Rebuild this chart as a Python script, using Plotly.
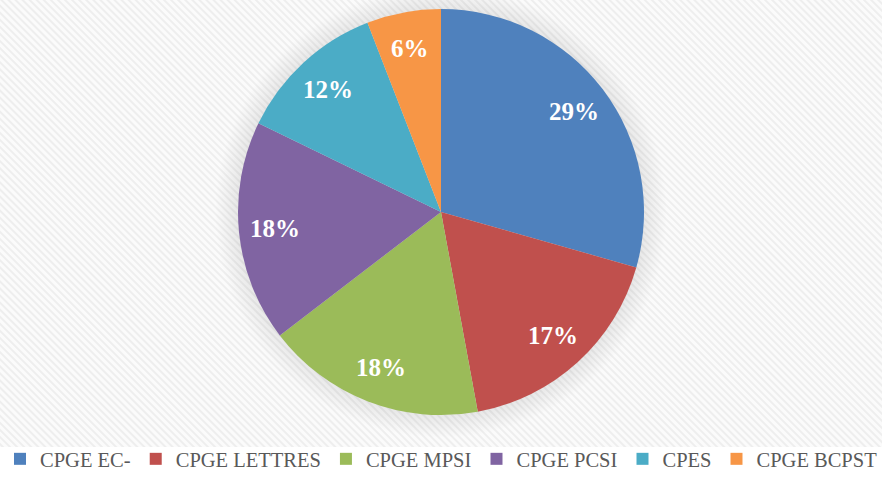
import base64
import math
import plotly.graph_objects as go

categories = ["CPGE EC-", "CPGE LETTRES", "CPGE MPSI", "CPGE PCSI", "CPES", "CPGE BCPST"]
# slice shares (percent)
shares = [29.4, 17.7, 17.5, 17.6, 11.9, 5.9]
# percentages as printed on the slices
pct_labels = ["29%", "17%", "18%", "18%", "12%", "6%"]
colors = ["#4F81BD", "#C0504D", "#9BBB59", "#8064A2", "#4BACC6", "#F79646"]

W, H = 882, 479
stripe_h = 447
cx_px, cy_px, r_px = W / 2, 212, 203
label_r = 0.82

svg = f'''<svg xmlns="http://www.w3.org/2000/svg" width="{W}" height="{stripe_h}">
<defs><pattern id="p" width="5" height="5" patternUnits="userSpaceOnUse" patternTransform="rotate(-45)">
<rect width="5" height="5" fill="#fbfbfb"/><rect width="2" height="5" fill="#eeeeee"/></pattern>
<radialGradient id="g" cx="{cx_px}" cy="{cy_px}" r="226" gradientUnits="userSpaceOnUse">
<stop offset="0.88" stop-color="#000" stop-opacity="0.09"/><stop offset="1" stop-color="#000" stop-opacity="0"/></radialGradient></defs>
<rect width="{W}" height="{stripe_h}" fill="url(#p)"/>
<circle cx="{cx_px}" cy="{cy_px}" r="226" fill="url(#g)"/>
</svg>'''
src = "data:image/svg+xml;base64," + base64.b64encode(svg.encode()).decode()

dom_y = [(H - cy_px - r_px) / H, (H - cy_px + r_px) / H]
label_font = dict(family="Liberation Serif, serif", size=25, color="white", weight="bold")

fig = go.Figure()
fig.add_trace(go.Pie(
    labels=categories, values=shares, sort=False, direction="clockwise", rotation=0,
    marker=dict(colors=colors, line=dict(width=0)),
    textinfo="none", domain=dict(x=[0, 1], y=dom_y),
    hovertext=pct_labels, hoverinfo="label+text",
))

# percentage labels placed near the rim, at each slice's mid-angle (derived from the shares)
total = sum(shares)
annotations = []
cum = 0.0
for share, txt in zip(shares, pct_labels):
    mid = (cum + share / 2) / total * 2 * math.pi
    cum += share
    px = cx_px + label_r * r_px * math.sin(mid)
    py = cy_px - label_r * r_px * math.cos(mid)
    annotations.append(dict(x=px / W, y=1 - py / H, xref="paper", yref="paper",
                            text=txt, showarrow=False, font=label_font,
                            xanchor="center", yanchor="middle"))

fig.update_layout(
    width=W, height=H,
    margin=dict(l=0, r=0, t=0, b=0),
    paper_bgcolor="white",
    showlegend=True,
    legend=dict(
        orientation="h", x=0, xanchor="left", y=0, yanchor="bottom",
        font=dict(family="Liberation Serif, serif", size=20.5, color="#595959"),
        itemwidth=30, tracegroupgap=0, bgcolor="rgba(0,0,0,0)",
    ),
    annotations=annotations,
    images=[dict(source=src, xref="paper", yref="paper", x=0, y=1,
                 sizex=1, sizey=stripe_h / H, sizing="stretch", layer="below",
                 xanchor="left", yanchor="top")],
)

fig.write_html("out.html")
